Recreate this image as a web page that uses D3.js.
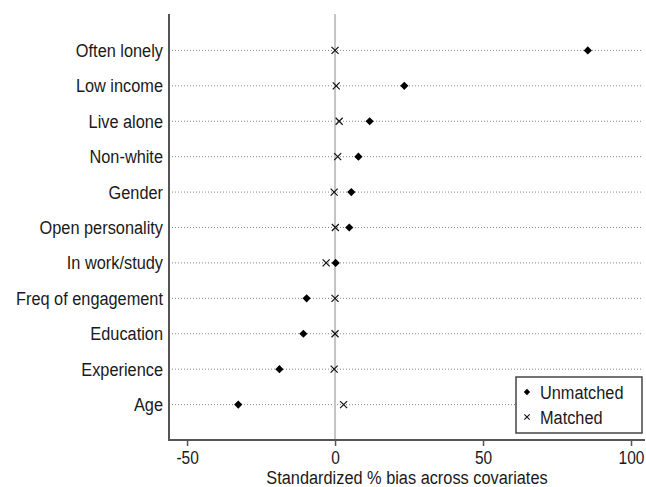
<!DOCTYPE html>
<html>
<head>
<meta charset="utf-8">
<script src="https://cdn.jsdelivr.net/npm/d3@7"></script>
<style>
  body { margin: 0; background: #fff; }
  text { font-family: "Liberation Sans", Arial, sans-serif; fill: #1a1a1a; }
</style>
</head>
<body>
<svg id="chart" width="646" height="487"></svg>
<script>
const covariates = ["Often lonely", "Low income", "Live alone", "Non-white", "Gender",
    "Open personality", "In work/study", "Freq of engagement", "Education", "Experience", "Age"];
const unmatched = [85.4, 23.4, 11.7, 7.9, 5.5, 4.8, 0.2, -9.6, -10.7, -18.8, -32.7];
const matched = [0, 0.4, 1.4, 0.9, -0.3, 0.1, -3.0, 0, 0, -0.3, 2.9];
const xTicks = [-50, 0, 50, 100];
const seriesNames = ["Unmatched", "Matched"];

// the original uses a condensed face, so squeeze the text horizontally
const fontSize = "19px";
const squeeze = 0.86;

const svg = d3.select("#chart");
const plot = { left: 169, right: 643, top: 14, bottom: 440 };

const x = d3.scaleLinear()
    .domain([-56.1, 104.05])
    .range([plot.left, plot.right]);

const y = d3.scalePoint()
    .domain(covariates)
    .range([plot.top + 1, plot.bottom])
    .padding(1);

const rows = covariates.map((c, i) => ({ name: c, u: unmatched[i], m: matched[i] }));

// dotted guide lines per covariate
svg.append("g").selectAll("line")
    .data(rows)
    .enter().append("line")
    .attr("x1", plot.left)
    .attr("x2", plot.right)
    .attr("y1", d => y(d.name))
    .attr("y2", d => y(d.name))
    .attr("stroke", "#8a8a8a")
    .attr("stroke-width", 1)
    .attr("stroke-dasharray", "1,2");

// zero reference line
svg.append("line")
    .attr("x1", x(0)).attr("x2", x(0))
    .attr("y1", plot.top).attr("y2", plot.bottom)
    .attr("stroke", "#c4c4c4")
    .attr("stroke-width", 2);

// x axis
const xAxis = svg.append("g")
    .attr("transform", "translate(0," + plot.bottom + ")")
    .call(d3.axisBottom(x).tickValues(xTicks).tickSize(6).tickPadding(5).tickFormat(d => String(d)));
xAxis.select(".domain").remove();
xAxis.selectAll(".tick line").attr("stroke", "#555").attr("stroke-width", 1.5);
xAxis.selectAll(".tick text")
    .style("font-size", "18px")
    .style("font-family", "Liberation Sans, Arial, sans-serif")
    .attr("fill", "#1a1a1a")
    .attr("transform", "scale(" + squeeze + ",1)");
svg.append("line")
    .attr("x1", plot.left - 1).attr("x2", plot.right + 2)
    .attr("y1", plot.bottom).attr("y2", plot.bottom)
    .attr("stroke", "#555").attr("stroke-width", 2);

// y axis
const yAxis = svg.append("g")
    .attr("transform", "translate(" + plot.left + ",0)")
    .call(d3.axisLeft(y).tickSize(0).tickPadding(7));
yAxis.select(".domain").remove();
yAxis.selectAll(".tick text")
    .style("font-size", fontSize)
    .style("font-family", "Liberation Sans, Arial, sans-serif")
    .attr("fill", "#1a1a1a")
    .attr("transform", "scale(" + squeeze + ",1)");
svg.append("line")
    .attr("x1", plot.left).attr("x2", plot.left)
    .attr("y1", plot.top).attr("y2", plot.bottom)
    .attr("stroke", "#555").attr("stroke-width", 2);

// markers
const diamond = d3.symbol().type(d3.symbolSquare).size(34);
const cross = d3.symbol().type(d3.symbolX).size(34);

svg.append("g").selectAll("path")
    .data(rows)
    .enter().append("path")
    .attr("d", cross)
    .attr("transform", d => "translate(" + x(d.m) + "," + y(d.name) + ")")
    .attr("fill", "none")
    .attr("stroke", "#111")
    .attr("stroke-width", 1.2);

svg.append("g").selectAll("path")
    .data(rows)
    .enter().append("path")
    .attr("d", diamond)
    .attr("transform", d => "translate(" + x(d.u) + "," + y(d.name) + ") rotate(45)")
    .attr("fill", "#000");

// axis title
svg.append("text")
    .attr("transform", "translate(407,484) scale(" + squeeze + ",1)")
    .attr("text-anchor", "middle")
    .style("font-size", fontSize)
    .text("Standardized % bias across covariates");

// legend
const legend = svg.append("g").attr("transform", "translate(516,377)");
legend.append("rect")
    .attr("width", 126).attr("height", 56)
    .attr("fill", "#fff")
    .attr("stroke", "#444").attr("stroke-width", 1.5);
legend.append("path")
    .attr("d", d3.symbol().type(d3.symbolSquare).size(20))
    .attr("transform", "translate(11,15) rotate(45)")
    .attr("fill", "#000");
legend.append("path")
    .attr("d", d3.symbol().type(d3.symbolX).size(20))
    .attr("transform", "translate(11,40)")
    .attr("fill", "none").attr("stroke", "#111").attr("stroke-width", 1.1);
legend.selectAll("text")
    .data(seriesNames)
    .enter().append("text")
    .attr("transform", (d, i) => "translate(24," + (22 + i * 25) + ") scale(" + squeeze + ",1)")
    .style("font-size", fontSize)
    .text(d => d);
</script>
</body>
</html>
